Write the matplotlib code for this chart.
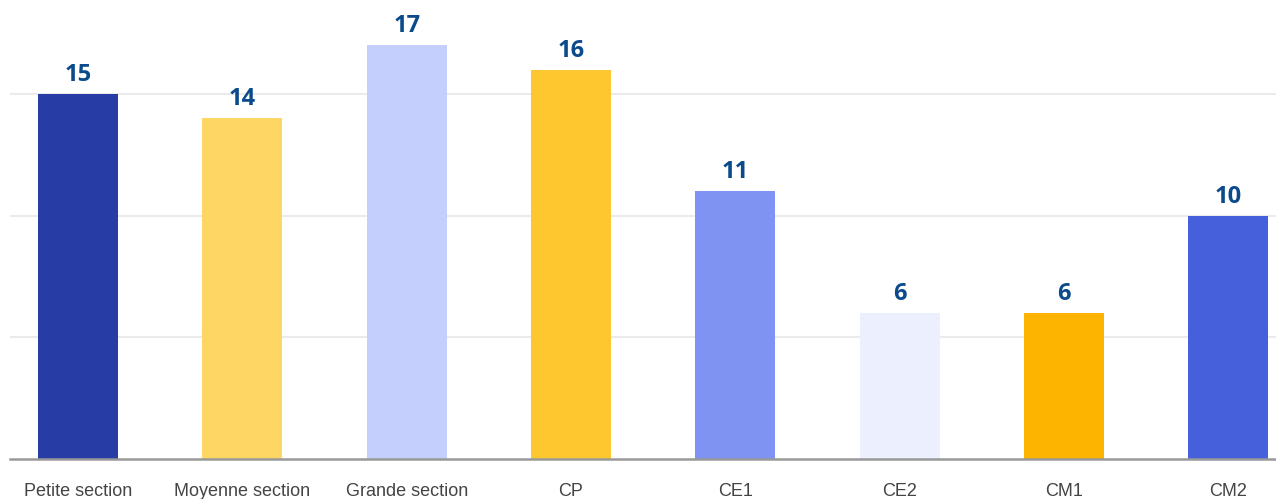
import matplotlib
matplotlib.use("Agg")
import matplotlib.pyplot as plt

categories = ["Petite section", "Moyenne section", "Grande section", "CP",
              "CE1", "CE2", "CM1", "CM2"]
values = [15, 14, 17, 16, 11, 6, 6, 10]
colors = ["#283ca6", "#fdd663", "#c5cffe", "#fec62f",
          "#7f93f2", "#eceffe", "#fdb400", "#4660dc"]
grid_values = [5, 10, 15]

W, H = 1276, 499
fig = plt.figure(figsize=(W / 100, H / 100), dpi=100)
ax = fig.add_axes([10 / W, 40 / H, 1 - 10 / W, 1 - 40 / H])

x = list(range(len(categories)))
ax.bar(x, values, width=0.487, color=colors, zorder=3)

for xi, v in zip(x, values):
    ax.annotate(str(v), (xi, v), xytext=(0, 5), textcoords="offset points",
                ha="center", va="bottom", fontsize=17, fontweight="bold",
                color="#0b4a8b", family=["Open Sans", "DejaVu Sans"])

ax.set_xlim(-0.414, 7.29)
ax.set_ylim(0, 18.86)
for g in grid_values:
    ax.axhline(g, color="#ebebeb", lw=1.5, zorder=1)

ax.set_xticks(x)
ax.set_xticklabels(categories, fontsize=13, color="#444444",
                   family=["Liberation Sans", "DejaVu Sans"])
ax.tick_params(axis="x", length=0, pad=17)
ax.set_yticks([])
for s in ["top", "right", "left"]:
    ax.spines[s].set_visible(False)
ax.spines["bottom"].set_color("#999999")
ax.spines["bottom"].set_linewidth(1.8)
ax.spines["bottom"].set_zorder(4)

fig.savefig("out.png", dpi=100)
